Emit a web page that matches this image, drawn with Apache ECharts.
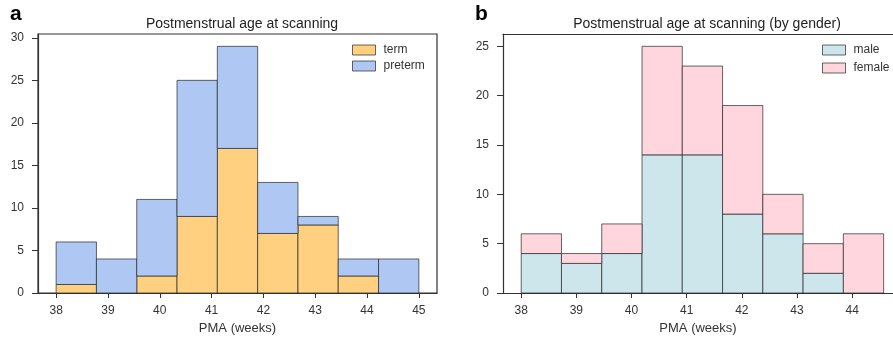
<!DOCTYPE html>
<html>
<head>
<meta charset="utf-8">
<script src="https://cdn.jsdelivr.net/npm/echarts@6/dist/echarts.min.js"></script>
<style>
  html, body { margin: 0; padding: 0; background: #fff; }
  #chart { width: 893px; height: 340px; }
</style>
</head>
<body>
<div id="chart"></div>
<script>
// bin edges (weeks)
const edgesA = [38, 38.778, 39.556, 40.333, 41.111, 41.889, 42.667, 43.444, 44.222, 45];
const edgesB = [38, 38.73, 39.46, 40.19, 40.92, 41.65, 42.38, 43.11, 43.84, 44.57];
// counts per bin
const termCounts = [1, 0, 2, 9, 17, 7, 8, 2, 0];
const pretermCounts = [5, 4, 9, 16, 12, 6, 1, 2, 4];
const maleCounts = [4, 3, 4, 14, 14, 8, 6, 2, 0];
const femaleCounts = [2, 1, 3, 11, 9, 11, 4, 3, 6];
// tick labels
const xTicksA = [38, 39, 40, 41, 42, 43, 44, 45];
const xTicksB = [38, 39, 40, 41, 42, 43, 44];
const yTicksA = [0, 5, 10, 15, 20, 25, 30];
const yTicksB = [0, 5, 10, 15, 20, 25];

const FONT = 'Liberation Sans, Arial, sans-serif';
const EDGE = 'rgba(40,40,40,0.7)';
const AXIS = '#333';

// stack counts on top of a base into [x0, x1, bottom, top] rects
function stackBins(edges, base, counts) {
    const out = [];
    counts.forEach((c, i) => {
        if (c > 0) {
            const b = base ? base[i] : 0;
            out.push([edges[i], edges[i + 1], b, b + c]);
        }
    });
    return out;
}

function renderBin(params, api) {
    const p0 = api.coord([api.value(0), api.value(3)]);
    const p1 = api.coord([api.value(1), api.value(2)]);
    return {
        type: 'rect',
        shape: { x: p0[0], y: p0[1], width: p1[0] - p0[0], height: p1[1] - p0[1] },
        style: { fill: api.visual('color'), stroke: EDGE, lineWidth: 1 }
    };
}

function xAxis(idx, min, max, ticks) {
    return {
        type: 'value', gridIndex: idx, min, max,
        name: 'PMA (weeks)', nameLocation: 'middle', nameGap: 29,
        nameTextStyle: { fontFamily: FONT, fontSize: 13, color: '#333' },
        axisLine: { onZero: false, lineStyle: { color: AXIS, width: 1.2 } },
        axisTick: { customValues: ticks, length: 5, lineStyle: { color: AXIS } },
        axisLabel: { customValues: ticks, fontFamily: FONT, fontSize: 12, color: '#333', margin: 12 },
        splitLine: { show: false }
    };
}

// top spine drawn as a bare axis
function topSpine(idx, min, max) {
    return {
        type: 'value', gridIndex: idx, min, max, position: 'top',
        axisLine: { onZero: false, lineStyle: { color: AXIS, width: 1.2 } },
        axisTick: { show: false }, axisLabel: { show: false }, splitLine: { show: false }
    };
}

function yAxis(idx, max, ticks) {
    return {
        type: 'value', gridIndex: idx, min: 0, max,
        axisLine: { show: true, onZero: false, lineStyle: { color: AXIS, width: 1.2 } },
        axisTick: { show: true, customValues: ticks, length: 6, lineStyle: { color: AXIS } },
        axisLabel: { customValues: ticks, fontFamily: FONT, fontSize: 12, color: '#333', margin: 14 },
        splitLine: { show: false }
    };
}

const legendText = { fontFamily: FONT, fontSize: 12, color: '#333', padding: [0, 0, 0, 3] };

const chart = echarts.init(document.getElementById('chart'), null, { renderer: 'canvas' });
chart.setOption({
    backgroundColor: '#fff',
    animation: false,
    title: [
        { text: 'a', left: 5, top: -1, textStyle: { fontFamily: FONT, fontSize: 21, fontWeight: 'bold', color: '#000' } },
        { text: 'b', left: 470, top: -1, textStyle: { fontFamily: FONT, fontSize: 21, fontWeight: 'bold', color: '#000' } },
        { text: 'Postmenstrual age at scanning', left: 237, top: 12, textAlign: 'center',
          textStyle: { fontFamily: FONT, fontSize: 14, fontWeight: 'normal', color: '#222' } },
        { text: 'Postmenstrual age at scanning (by gender)', left: 702, top: 12, textAlign: 'center',
          textStyle: { fontFamily: FONT, fontSize: 14, fontWeight: 'normal', color: '#222' } }
    ],
    legend: [
        { data: ['term', 'preterm'], orient: 'vertical', left: 352, top: 44, padding: 0,
          itemWidth: 23, itemHeight: 10, itemGap: 4, icon: 'rect', textStyle: legendText,
          itemStyle: { borderColor: EDGE, borderWidth: 1 } },
        { data: ['male', 'female'], orient: 'vertical', left: 822, top: 44, padding: 0,
          itemWidth: 23, itemHeight: 10, itemGap: 6, icon: 'rect', textStyle: legendText,
          itemStyle: { borderColor: EDGE, borderWidth: 1 } }
    ],
    grid: [
        { left: 38, top: 34, width: 399, height: 259, show: true, borderColor: AXIS, borderWidth: 1.2, backgroundColor: 'transparent' },
        // right panel runs past the canvas edge: its right spine is cut off
        { left: 503, top: 34, width: 390, height: 259 }
    ],
    xAxis: [
        xAxis(0, 37.65, 45.35, xTicksA),
        xAxis(1, 37.67, 44.74, xTicksB),
        topSpine(1, 37.67, 44.74)
    ],
    yAxis: [yAxis(0, 30.45, yTicksA), yAxis(1, 26.25, yTicksB)],
    series: [
        { name: 'term', type: 'custom', xAxisIndex: 0, yAxisIndex: 0, renderItem: renderBin,
          itemStyle: { color: '#FFD080' }, encode: { x: [0, 1], y: [2, 3] },
          data: stackBins(edgesA, null, termCounts) },
        { name: 'preterm', type: 'custom', xAxisIndex: 0, yAxisIndex: 0, renderItem: renderBin,
          itemStyle: { color: '#AEC8F3' }, encode: { x: [0, 1], y: [2, 3] },
          data: stackBins(edgesA, termCounts, pretermCounts) },
        { name: 'male', type: 'custom', xAxisIndex: 1, yAxisIndex: 1, renderItem: renderBin,
          itemStyle: { color: '#CCE6EC' }, encode: { x: [0, 1], y: [2, 3] },
          data: stackBins(edgesB, null, maleCounts) },
        { name: 'female', type: 'custom', xAxisIndex: 1, yAxisIndex: 1, renderItem: renderBin,
          itemStyle: { color: '#FFD6DE' }, encode: { x: [0, 1], y: [2, 3] },
          data: stackBins(edgesB, maleCounts, femaleCounts) }
    ]
});
</script>
</body>
</html>
